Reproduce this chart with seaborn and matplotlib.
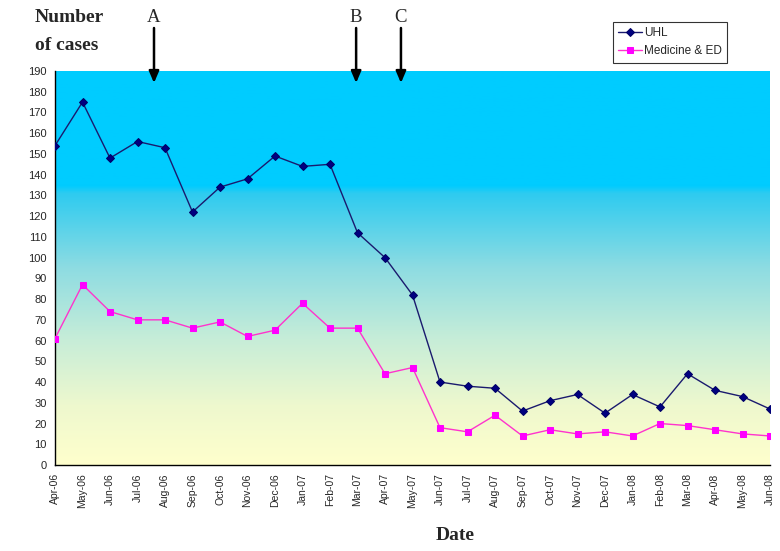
import numpy as np
import pandas as pd
import matplotlib
matplotlib.use("Agg")
import matplotlib.pyplot as plt
from matplotlib.colors import LinearSegmentedColormap
import seaborn as sns

months = ["Apr-06", "May-06", "Jun-06", "Jul-06", "Aug-06", "Sep-06", "Oct-06", "Nov-06",
          "Dec-06", "Jan-07", "Feb-07", "Mar-07", "Apr-07", "May-07", "Jun-07", "Jul-07",
          "Aug-07", "Sep-07", "Oct-07", "Nov-07", "Dec-07", "Jan-08", "Feb-08", "Mar-08",
          "Apr-08", "May-08", "Jun-08"]
uhl = [154, 175, 148, 156, 153, 122, 134, 138, 149, 144, 145, 112, 100, 82, 40, 38,
       37, 26, 31, 34, 25, 34, 28, 44, 36, 33, 27]
med_ed = [61, 87, 74, 70, 70, 66, 69, 62, 65, 78, 66, 66, 44, 47, 18, 16,
          24, 14, 17, 15, 16, 14, 20, 19, 17, 15, 14]
y_ticks = list(range(0, 200, 10))
arrow_labels = ["A", "B", "C"]
arrow_pos = [3.6, 10.95, 12.58]

sns.set_style("white")
plt.rcParams['font.family'] = ['Liberation Sans', 'DejaVu Sans']

fig = plt.figure(figsize=(7.8, 5.51), dpi=100)
ax = fig.add_axes([55/780, 1 - 465/551, (770 - 55)/780, (465 - 71)/551])

n = len(months)
x = np.arange(n)

# gradient background
cmap = LinearSegmentedColormap.from_list("bg", [
    (0.0, "#00CCFF"), (0.29, "#00CCFF"), (0.31, "#2ECBF0"),
    (0.50, "#8EDCE2"), (0.68, "#C6EDD8"), (0.85, "#EEF8CE"), (1.0, "#FFFFCC")])
grad = np.linspace(0, 1, 256).reshape(-1, 1)
ax.imshow(grad, extent=[0, n - 1, 0, 190], aspect="auto", cmap=cmap, origin="upper", zorder=0)

df = pd.DataFrame({"x": np.concatenate([x, x]),
                   "value": uhl + med_ed,
                   "series": ["UHL"] * n + ["Medicine & ED"] * n})

sns.lineplot(data=df[df.series == "UHL"], x="x", y="value", ax=ax, color="#1a1a6e",
             marker="D", markersize=4, markeredgecolor="#000066", markerfacecolor="#000080",
             linewidth=1.0, label="UHL", zorder=3)
sns.lineplot(data=df[df.series == "Medicine & ED"], x="x", y="value", ax=ax, color="#FF33CC",
             marker="s", markersize=4, markeredgecolor="#FF00FF", markerfacecolor="#FF00FF",
             linewidth=1.0, label="Medicine & ED", zorder=3)

ax.set_xlim(0, n - 1)
ax.set_ylim(0, 190)
ax.set_yticks(y_ticks)
ax.set_yticklabels([str(v) for v in y_ticks], fontsize=8)
ax.set_xticks(x)
ax.set_xticklabels(months, rotation=90, fontsize=7.5)
ax.set_xlabel("")
ax.set_ylabel("")
ax.tick_params(axis="both", direction="out", length=4, width=0.8, color="black", pad=2)
for s in ["top", "right"]:
    ax.spines[s].set_visible(False)
for s in ["left", "bottom"]:
    ax.spines[s].set_color("black")
    ax.spines[s].set_linewidth(1.0)

leg = ax.legend(loc="upper left", bbox_to_anchor=(613/780, 1 - 22/551),
                bbox_transform=fig.transFigure, fontsize=8.5, frameon=True, fancybox=False,
                handlelength=2.0, borderpad=0.45, labelspacing=0.5, handletextpad=0.2,
                borderaxespad=0)
leg.get_frame().set_edgecolor("black")
leg.get_frame().set_linewidth(0.8)

# arrows
for lab, xp in zip(arrow_labels, arrow_pos):
    ax.annotate("", xy=(xp, 551 - 83), xycoords=("data", "figure pixels"),
                xytext=(xp, 551 - 28), textcoords=("data", "figure pixels"),
                arrowprops=dict(arrowstyle="-|>,head_width=0.3,head_length=0.7",
                                color="black", lw=1.8, shrinkA=0, shrinkB=0),
                annotation_clip=False)
    ax.annotate(lab, xy=(xp, 551 - 17), xycoords=("data", "figure pixels"),
                ha="center", va="center", fontsize=13.5, family="Liberation Serif",
                annotation_clip=False)

fig.text(35/780, 1 - 18/551, "Number", fontsize=14, fontweight="bold",
         family="Liberation Serif", ha="left", va="center")
fig.text(35/780, 1 - 45/551, "of cases", fontsize=14, fontweight="bold",
         family="Liberation Serif", ha="left", va="center")
fig.text(455/780, 1 - 535/551, "Date", fontsize=14, fontweight="bold",
         family="Liberation Serif", ha="center", va="center")

fig.savefig("out.png", dpi=100)
